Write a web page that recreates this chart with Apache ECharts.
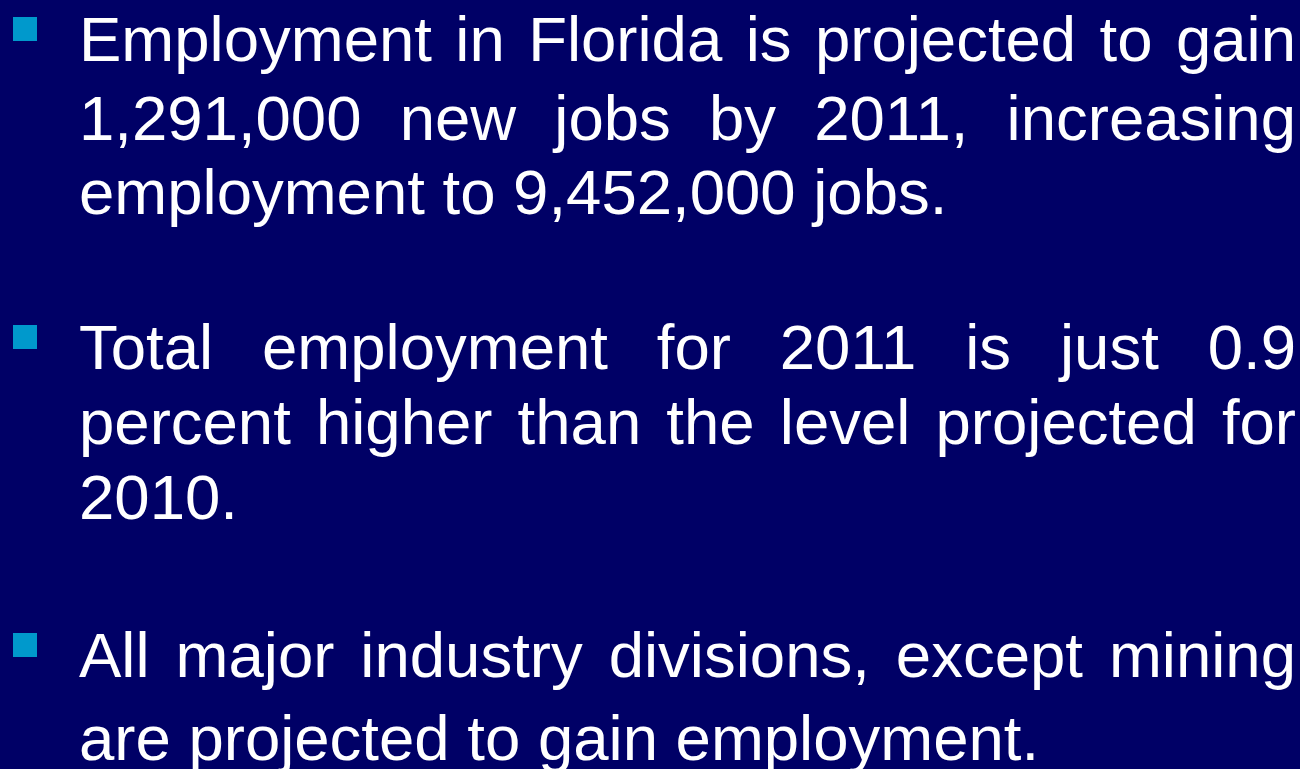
<!DOCTYPE html>
<html>
<head>
<meta charset="utf-8">
<title>Florida employment</title>
<script src="https://cdn.jsdelivr.net/npm/echarts@6/dist/echarts.min.js"></script>
<style>
  html, body { margin: 0; padding: 0; background: #000066; }
  #slide { width: 1300px; height: 769px; }
</style>
</head>
<body>
<div id="slide"></div>
<script>
// text of the three bullets, one entry per printed line
var para1 = ['Employment in Florida is projected to gain', '1,291,000 new jobs by 2011, increasing', 'employment to 9,452,000 jobs.'];
var para2 = ['Total employment for 2011 is just 0.9', 'percent higher than the level projected for', '2010.'];
var para3 = ['All major industry divisions, except mining', 'are projected to gain employment.'];
var paragraphs = [para1, para2, para3];

// baseline of every line (px)
var baselines = [[57, 136, 210], [365, 440, 515], [673, 756]];

var FONT_SIZE = 63.5;
var FONT_FAMILY = '"Liberation Sans", Arial, sans-serif';
var TEXT_LEFT = 79, TEXT_RIGHT = 1296;
var TOP_TO_BASE = 46;   // text box top -> alphabetic baseline

var ctx = document.createElement('canvas').getContext('2d');
ctx.font = FONT_SIZE + 'px ' + FONT_FAMILY;

function textEl(str, x, base) {
    return {
        type: 'text',
        left: x, top: base - TOP_TO_BASE,
        style: {
            text: str,
            fill: '#ffffff',
            font: FONT_SIZE + 'px ' + FONT_FAMILY
        },
        silent: true
    };
}

var elements = [];
paragraphs.forEach(function (lines, p) {
    var first = baselines[p][0];
    // square bullet
    elements.push({
        type: 'rect',
        shape: { x: 13, y: first - 40, width: 24, height: 24 },
        style: { fill: '#0099cc' },
        silent: true
    });
    lines.forEach(function (line, i) {
        var base = baselines[p][i];
        var last = i === lines.length - 1;
        if (last) {
            elements.push(textEl(line, TEXT_LEFT, base));
            return;
        }
        // justified line: spread the words across the full width
        var words = line.split(' ');
        var wordsW = 0;
        words.forEach(function (w) { wordsW += ctx.measureText(w).width; });
        var gap = (TEXT_RIGHT - TEXT_LEFT - wordsW) / (words.length - 1);
        var x = TEXT_LEFT;
        words.forEach(function (w) {
            elements.push(textEl(w, x, base));
            x += ctx.measureText(w).width + gap;
        });
    });
});

var chart = echarts.init(document.getElementById('slide'));
chart.setOption({
    backgroundColor: '#000066',
    animation: false,
    graphic: { elements: elements }
});
</script>
</body>
</html>
